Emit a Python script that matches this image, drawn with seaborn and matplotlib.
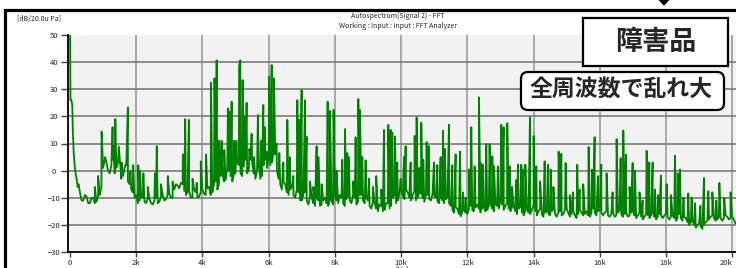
import pandas as pd
import seaborn as sns
import matplotlib.pyplot as plt
from matplotlib.patches import Rectangle, FancyBboxPatch, Polygon

# ---- values (Hz, dB re 20 uPa) ----
# steep start near 0 Hz
lowend_hz = [0, 15, 40, 70, 85, 110, 140, 170, 200, 230, 260]
lowend_db = [55, 26, 26, 24, 15, 7, 2, -1, -3, -6, -5]

# noise floor, one value every 100 Hz from 300 Hz to 20.1 kHz
floor_hz = list(range(300, 20200, 100))
floor_db = [
    -8, -11, -9.5, -12, -10, -11.5, -9,                              # 300-900
    1, 3, -1, 4, 1, 5, -2, 2, -5, -8,                                # 1k
    -9, -11, -10, -12, -10.5, -12.5, -10, -11.5, -9, -10.5,          # 2k
    -8.5, -10, -5, -6.5, -5, -9, -7.5, -10, -8, -9.5,                # 3k
    -7, -9, -6, -8, -4, -5, -1, -3.5, 0, -4,                         # 4k
    -1, 2, -2, 4, 0.5, 3, -3, 2, -2, 4,                              # 5k
    5, 3, 6, -3, -7, -5, -9, -6, -10, -8,                            # 6k
    -11, -8, -12.5, -10, -13, -11, -12.5, -10, -13, -11,             # 7k
    -9, -12, -10, -13, -9.5, -12, -10, -11.5, -9, -12,               # 8k
    -11, -14, -12, -15, -13, -14.5, -12, -13, -9, -11,               # 9k
    -7, -10.5, -8, -11, -7.5, -10, -8.5, -11.5, -9, -11,             # 10k
    -9.5, -11.5, -10, -12, -10, -13, -15.5, -14, -16.8, -14.5,       # 11k
    -16, -13, -15, -12.5, -15.4, -13.5, -14.5, -12, -15, -13,        # 12k
    -11, -14.5, -12, -15, -13, -16, -13.5, -16.5, -14, -16,          # 13k
    -13, -16.5, -14, -17, -15, -16.5, -14, -17, -15, -16,            # 14k
    -14, -17, -15, -17.5, -14.5, -16.5, -15, -17, -14, -16.5,        # 15k
    -14.5, -16.5, -15, -17, -15.5, -16.5, -14.5, -17, -15.5, -16.5,  # 16k
    -15, -17.5, -15.5, -18, -16, -17.5, -15.5, -18, -16, -17.5,      # 17k
    -16, -18, -16.5, -18.5, -16, -18.5, -17.5, -20, -18.5, -21,      # 18k
    -19.5, -21.5, -19, -18, -16.5, -18.5, -17, -18.5, -16.5, -18,    # 19k
    -17, -19.5,                                                      # 20k
]

# in-between floor readings, 350 Hz to 20.05 kHz
floor_b_hz = list(range(350, 20100, 100))
floor_b_db = [
    -11, -9, -12, -10, -12, -9.5, -6,                                # 350-950
    4, 0, 2, -1, 3, -3, 1, -4, -7, -10,                              # 1k
    -12, -9.5, -11.5, -10, -12, -11, -12, -9.5, -11, -9,             # 2k
    -10, -7, -5.5, -4.5, -7.5, -8, -10, -7, -10, -8,                 # 3k
    -8.5, -6.5, -9, -5, -7, -2, -4, 1, -2, -1.5,                     # 4k
    3, -1, 1.5, -1, 4, -1, 0, -3, 2, 1,                              # 5k
    2, 7, 0, -5, -4, -8, -7, -9, -7, -11,                            # 6k
    -9, -11, -9.5, -12, -10, -13, -11, -12, -10.5, -12.5,            # 7k
    -11, -9, -12, -10.5, -11, -9, -12.5, -9, -11, -10,               # 8k
    -13, -11.5, -14, -12.5, -15, -12, -14, -10, -12, -8.5,           # 9k
    -9.5, -7, -10, -9, -11, -8, -10, -9, -10.5, -8.5,                # 10k
    -10, -12, -11, -10.5, -12, -14.5, -13.5, -16, -15, -15.5,        # 11k
    -14, -14.5, -13.5, -14, -14, -15, -13, -14, -12.5, -14,          # 12k
    -12.5, -13, -14, -13.5, -15, -14, -15.5, -15, -15.5, -14.5,      # 13k
    -15, -15, -16, -15.5, -16, -15, -16, -15.5, -16.5, -14.5,        # 14k
    -15.5, -16, -16.5, -16, -15.5, -16, -16.5, -15.5, -15.5, -15,    # 15k
    -15.5, -15.5, -16.5, -16, -17, -15.5, -16, -16, -17, -15.5,      # 16k
    -16.5, -16.5, -17, -17, -16.5, -16.5, -17, -17, -16.5, -16.5,    # 17k
    -17, -17, -17.5, -17.5, -17.5, -17, -19, -19, -20, -20,          # 18k
    -20.5, -20, -18.5, -17, -17.5, -18, -17.5, -17.5, -17, -17.5,    # 19k
    -18,                                                             # 20k
]

# tonal peaks sticking out of the floor
peak_hz = [
    750, 850, 955, 1060, 1285, 1313, 1370, 1475, 1560, 1672, 1748, 1826, 1908,
    2062, 2113, 2216, 2350, 2565, 2620, 2750, 2955, 3100, 3410, 3480, 3590,
    3700, 3827, 3950, 4110, 4258, 4364, 4429, 4500, 4580, 4660, 4770, 4812,
    4882, 4950, 5025, 5108, 5145, 5215, 5290, 5334, 5420, 5486, 5557, 5675,
    5768, 5839, 5889, 5940, 6010, 6091, 6161, 6240, 6322, 6443, 6564, 6644,
    6745, 6866, 6926, 6996, 7097, 7147, 7250, 7350, 7449, 7500, 7600, 7781,
    7852, 7960, 8050, 8224, 8305, 8375, 8426, 8550, 8627, 8708, 8758, 8828,
    8929, 9030, 9150, 9250, 9400, 9483, 9614, 9684, 9735, 9815, 9885, 9986,
    10087, 10137, 10288, 10409, 10469, 10550, 10610, 10670, 10771, 10842,
    10993, 11094, 11194, 11265, 11325, 11446, 11547, 11647, 11778, 11870,
    11950, 12050, 12120, 12221, 12352, 12402, 12473, 12573, 12674, 12755,
    12805, 12926, 13026, 13097, 13207, 13278, 13350, 13479, 13530, 13630,
    13681, 13751, 13892, 14003, 14084, 14200, 14336, 14436, 14517, 14600,
    14758, 14839, 14970, 15100, 15191, 15321, 15392, 15500, 15664, 15765,
    15845, 15946, 16047, 16207, 16388, 16509, 16630, 16711, 16791, 16900,
    16993, 17063, 17200, 17295, 17416, 17496, 17597, 17667, 17760, 17849,
    18020, 18150, 18272, 18352, 18423, 18530, 18675, 18775, 18880, 19040,
    19148, 19279, 19400, 19520, 19613, 19760, 19950,
]
peak_db = [
    -6, -2, 14.4, 5, 16, 9, 19, 8.9, 3, 2, 23.3, 0, 2,
    2, 0, -1, -6, -1, 9, -5, -2, -4, 6, 19, 18.7,
    -3, -4.5, 3.4, 6, 32.4, 34, 40.7, 11, 11, 7.6, 23, 21.8,
    25.4, 11, 11, 38.9, 40.7, 33.4, 20, 25, 8, 13.6, 5, 20.5,
    11, 24.2, 16, 7, 34.6, 38.9, 34, 10, 6.5, 3, 18.7, 5,
    -2, 26, 18.7, 29.7, 26, 12.5, -4, -6, 9, 5, -5, 25.4,
    22, 22.4, 0, 4, 15.3, 6.5, 5, -4, 12.3, 26.4, 22.4, 5,
    3.8, -3, -6, -2, -7, 15, 16.9, 15, 14, 12.6, 3, -3,
    5, 9, 3, 12.8, 19.6, 1, 17.7, 4, 10.5, 9,
    3, 2, 5, 14.7, 8, 16.9, 2, 6, 7, -8,
    -10, 0.5, 16, 1.6, 27, 2.8, 2.2, 9.8, 9.8, 5.3,
    1.6, 1.6, 16.9, 16, 17.5, 1.6, -6, -3.4, 2.2, 2.2,
    0.4, 2.2, 19.6, 12.8, 1.6, -4, 3.4, 2.2, 0.4, -6,
    7, 6.2, 2.8, -9, -8, 2.2, -7, -5, 8.7, 0.4,
    12.3, -2, 2.2, -1, -8, 11.6, 4.6, 14.8, 5.9, -6,
    2.8, 0, -8, -11, 7.3, 3, 3, -7, -9, -1.8,
    -5, -9, 5.5, -1, 0.4, -10, -8.4, -10, -12, -13,
    -2.7, -7.6, -8, -11, -4.5, -10, -8,
]

xtick_hz = [0, 2000, 4000, 6000, 8000, 10000, 12000, 14000, 16000, 18000, 20000]
xtick_labels = ["0", "2k", "4k", "6k", "8k", "10k", "12k", "14k", "16k", "18k", "20k"]
ytick_db = [-30, -20, -10, 0, 10, 20, 30, 40, 50]

title_line1 = "Autospectrum(Signal 2) - FFT"
title_line2 = "Working : Input : Input : FFT Analyzer"
unit_label = "[dB/20.0u Pa]"
tag_main = "障害品"
tag_note = "全周波数で乱れ大"

spectrum = pd.concat([
    pd.DataFrame({"hz": lowend_hz, "db": lowend_db}),
    pd.DataFrame({"hz": floor_hz, "db": floor_db}),
    pd.DataFrame({"hz": floor_b_hz, "db": floor_b_db}),
    pd.DataFrame({"hz": peak_hz, "db": peak_db}),
]).sort_values("hz", kind="stable").reset_index(drop=True)

sns.set_style("white")
plt.rcParams["font.family"] = ["Noto Sans CJK JP", "DejaVu Sans"]

W, H = 736, 268
fig = plt.figure(figsize=(W / 100, H / 100), dpi=100)


def fx(x):
    return x / W


def fy(y):
    return 1 - y / H


ax = fig.add_axes([fx(68.3), fy(252), fx(735.5) - fx(68.3), fy(35) - fy(252)])
ax.set_facecolor("#f2f2f2")

sns.lineplot(data=spectrum, x="hz", y="db", ax=ax, color="#008000",
             linewidth=1.3, estimator=None, sort=False)

ax.set_xlim(-51, 20100)
ax.set_ylim(-30, 50)
ax.set_xticks(xtick_hz, xtick_labels)
ax.set_yticks(ytick_db)
ax.set_xlabel("")
ax.set_ylabel("")

ax.grid(axis="x", color="#9a9a9a", linewidth=1.2)
ax.grid(axis="y", color="#7a7a7a", linewidth=1.2)
ax.set_axisbelow(True)
ax.xaxis.get_gridlines()[0].set_visible(False)
ax.yaxis.get_gridlines()[0].set_visible(False)
ax.yaxis.get_gridlines()[-1].set_visible(False)

for s in ["top", "right"]:
    ax.spines[s].set_visible(False)
for s in ["left", "bottom"]:
    ax.spines[s].set_color("black")
    ax.spines[s].set_linewidth(1.3)

ax.tick_params(axis="y", length=5, width=1, color="#444444", pad=5.5,
               labelsize=5.5, left=True)
ax.tick_params(axis="x", length=3.5, width=1, color="#444444", pad=1.5,
               labelsize=5.5, bottom=True)
for lab in ax.get_yticklabels():
    lab.set_horizontalalignment("center")
ax.get_xticklabels()[-1].set_horizontalalignment("right")

# outer frame and arrow marker at the top
fig.add_artist(Rectangle((fx(5), fy(400)), 2, fy(10) - fy(400),
                         transform=fig.transFigure, fill=False,
                         edgecolor="black", linewidth=2.3, zorder=4))
fig.add_artist(Polygon([(fx(657), fy(-3)), (fx(671), fy(-3)), (fx(664), fy(5))],
                       closed=True, transform=fig.transFigure,
                       color="black", zorder=4))

fig.text(fx(398), fy(16.5), title_line1, ha="center", va="center", fontsize=5)
fig.text(fx(398), fy(26.5), title_line2, ha="center", va="center", fontsize=5)
fig.text(fx(17), fy(19.5), unit_label, ha="left", va="center", fontsize=5)
fig.text(fx(402), fy(265.5), "[Hz]", ha="center", va="top", fontsize=5)

# annotation boxes (drawn in inches so the rounding is round)
inch = fig.dpi_scale_trans
fig.add_artist(Rectangle((583 / 100, (H - 66) / 100), 145 / 100, 48 / 100,
                         transform=inch, facecolor="white", edgecolor="black",
                         linewidth=1.6, zorder=5))
fig.text(655.5 / 100, (H - 42.5) / 100, tag_main, transform=inch,
         ha="center", va="center", fontsize=19.5, fontweight="bold", zorder=6)

fig.add_artist(FancyBboxPatch((521 / 100, (H - 110) / 100), 203 / 100, 38 / 100,
                              boxstyle="round,pad=0,rounding_size=0.07",
                              transform=inch, facecolor="white",
                              edgecolor="black", linewidth=1.6, zorder=5))
fig.text(621 / 100, (H - 90.5) / 100, tag_note, transform=inch,
         ha="center", va="center", fontsize=16.5, fontweight="bold", zorder=6)

fig.savefig("out.png", dpi=100)
